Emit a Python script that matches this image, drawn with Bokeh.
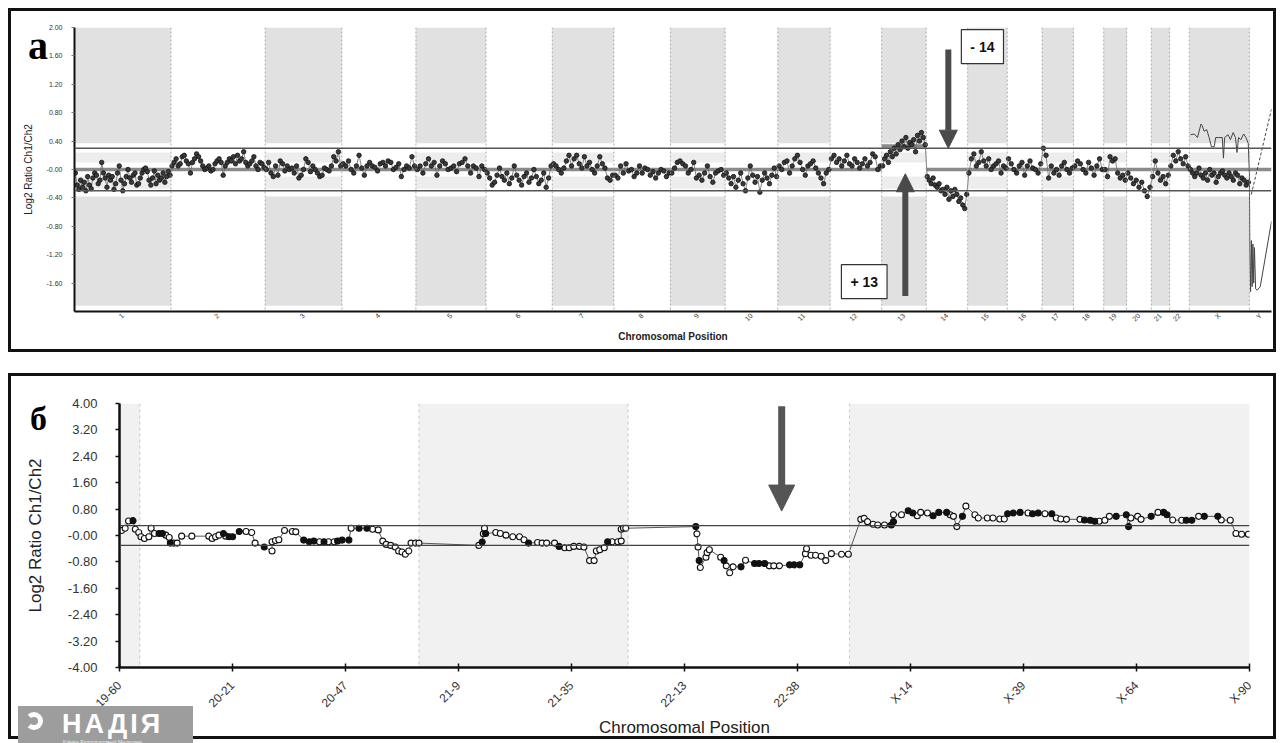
from bokeh.plotting import figure
from bokeh.models import (Span, Label, Arrow, NormalHead, FixedTicker,
                          CustomJSTickFormatter, Range1d, Div)
from bokeh.embed import file_html
from bokeh.resources import INLINE

FONT = "Liberation Sans"

# ------------------------------------------------------------------ panel a data
chrom_names = ["1", "2", "3", "4", "5", "6", "7", "8", "9", "10", "11", "12",
               "13", "14", "15", "16", "17", "18", "19", "20", "21", "22", "X", "Y"]
chrom_len_mb = [249, 243, 198, 191, 181, 171, 159, 146, 141, 136, 135, 133,
                115, 107, 102, 90, 81, 78, 59, 64, 47, 51, 155, 57]
chrom_shaded = [1, 0, 1, 0, 1, 0, 1, 0, 1, 0, 1, 0,
                1, 0, 1, 0, 1, 0, 1, 0, 1, 0, 1, 0]
segment_level = [0, 0, 0, 0, 0, 0, 0, 0, 0, 0, 0, 0,
                 0.33, 0, 0, 0, 0, 0, 0, 0, 0, 0, 0, 0]

chr1 = [-0.05, -0.22, -0.28, -0.15, -0.25, -0.18, -0.3, -0.1, -0.22, -0.27, -0.12, -0.05, -0.08, -0.2,
        -0.15, 0.1, -0.05, -0.12, -0.25, -0.08, -0.15, -0.1, -0.28, -0.2, -0.05, 0.05, -0.15, -0.3,
        -0.2, -0.1, 0.0, -0.12, -0.18, -0.08, -0.05, -0.22, -0.2, -0.12, -0.05, 0.0, 0.02, -0.03,
        -0.15, -0.22, -0.12, -0.02, -0.2, -0.08, -0.15, -0.12, -0.05, -0.18, -0.1, -0.03, -0.08]
chr2 = [0.05, 0.1, 0.15, 0.05, 0.08, 0.18, 0.2, 0.12, 0.08, -0.05, 0.1, 0.15, 0.22, 0.18, 0.12, 0.05,
        0.0, 0.02, 0.05, -0.02, 0.0, 0.08, 0.12, 0.15, 0.1, -0.08, 0.05, 0.1, 0.15, 0.12, 0.18, 0.08,
        0.2, 0.12, 0.15, 0.25, 0.1, 0.05, 0.08, 0.12, 0.18, 0.05, 0.0, 0.1, 0.08, 0.03]
chr3 = [0.0, 0.1, -0.05, -0.1, 0.05, -0.08, 0.12, 0.08, -0.02, 0.05, 0.0, 0.02, -0.05, 0.05, -0.12,
        -0.08, 0.0, 0.15, 0.1, -0.03, 0.05, 0.0, -0.05, -0.1, -0.08, 0.02, 0.0, -0.02, 0.05, 0.18,
        0.12, 0.25, 0.05]
chr4 = [0.08, 0.05, 0.12, 0.0, -0.05, 0.05, 0.2, 0.02, -0.08, 0.05, 0.1, 0.05, 0.03, -0.02, 0.08,
        0.1, 0.05, 0.12, 0.1, 0.0, 0.03, 0.08, -0.1, 0.0, 0.05, 0.02, 0.18, 0.05]
chr5 = [0.0, 0.05, -0.05, 0.08, 0.15, 0.05, 0.1, -0.08, 0.05, 0.12, 0.08, 0.0, 0.02, 0.05, -0.03,
        0.08, 0.1, 0.15, 0.05, -0.05, 0.05, 0.02, -0.1, 0.05, 0.0]
chr6 = [-0.05, -0.12, -0.22, -0.18, -0.08, 0.02, -0.1, -0.15, -0.05, -0.2, -0.12, 0.05, -0.08,
        -0.15, -0.22, -0.1, -0.05, -0.18, -0.12, 0.0, -0.1, -0.2, -0.15, -0.05, -0.25, -0.12, 0.05]
chr7 = [0.08, 0.05, 0.0, -0.05, 0.02, 0.12, 0.2, 0.05, 0.15, 0.2, 0.08, 0.02, 0.18, 0.05, 0.1, 0.0,
        -0.05, 0.05, 0.18, 0.08, 0.02, -0.12, -0.15, -0.08]
chr8 = [-0.08, -0.12, 0.05, -0.05, 0.08, -0.02, 0.0, -0.1, -0.05, 0.05, -0.05, 0.02, 0.0, -0.08,
        -0.03, -0.12, -0.05, 0.0, -0.02, -0.1, -0.05]
chr9 = [-0.05, 0.02, 0.1, 0.12, 0.08, 0.05, -0.05, 0.0, 0.1, -0.12, -0.08, -0.15, -0.05, 0.05, -0.1,
        -0.18, -0.05, -0.02, 0.0, -0.08]
chr10 = [-0.05, -0.12, -0.2, -0.1, -0.25, -0.15, -0.05, -0.2, -0.3, -0.12, 0.05, -0.08, -0.18, -0.1,
         -0.32, -0.15, -0.05, -0.12, -0.2, -0.08, 0.02, -0.1]
chr11 = [0.05, 0.0, 0.1, 0.12, -0.05, 0.05, 0.15, 0.2, 0.1, 0.0, -0.08, 0.05, 0.08, 0.12, 0.02,
         -0.05, -0.12, -0.2, -0.05, 0.0]
chr12 = [0.15, 0.2, 0.1, 0.15, 0.05, 0.12, 0.2, 0.08, 0.05, 0.15, 0.1, 0.02, 0.08, 0.15, 0.05, 0.1,
         0.22, 0.18, 0.0, 0.05]
chr13 = [0.05, 0.15, 0.2, 0.1, 0.25, 0.18, 0.3, 0.22, 0.35, 0.28, 0.4, 0.32, 0.45, 0.3, 0.38, 0.35,
         0.42, 0.25, 0.48, 0.4, 0.52, 0.45, 0.35]
chr14 = [-0.1, -0.15, -0.2, -0.12, -0.22, -0.25, -0.2, -0.3, -0.28, -0.35, -0.25, -0.42, -0.3, -0.38,
         -0.28, -0.35, -0.45, -0.4, -0.5, -0.55, -0.35]
chr15 = [-0.05, 0.15, 0.22, 0.05, 0.1, 0.25, 0.12, 0.05, 0.15, 0.0, 0.05, 0.08, 0.12, -0.05, 0.05, 0.02]
chr16 = [0.15, 0.08, 0.0, -0.05, 0.05, 0.1, -0.08, 0.05, 0.12, 0.02, 0.0, -0.05, 0.08]
chr17 = [0.3, 0.2, -0.12, 0.05, -0.05, 0.0, -0.08, 0.05, 0.1, 0.0, -0.05, 0.02]
chr18 = [0.05, 0.12, 0.08, 0.0, -0.05, 0.1, 0.02, -0.08, 0.05, 0.15, 0.0]
chr19 = [0.0, -0.1, 0.18, 0.12, 0.15, -0.05, -0.12, -0.08, -0.15]
chr20 = [-0.05, -0.12, -0.2, -0.15, -0.25, -0.18, -0.3, -0.38, -0.25]
chr21 = [-0.1, 0.12, -0.05, -0.15, -0.1, -0.2, -0.08]
chr22 = [0.05, 0.2, 0.12, 0.25, 0.15, 0.08, 0.18, 0.05]
chrX = [0.0, -0.05, -0.1, -0.05, 0.02, -0.08, -0.12, -0.05, -0.15, 0.0, -0.08, -0.05, -0.18, -0.1,
        -0.05, -0.02, -0.08, -0.12, -0.05, -0.1, -0.15, -0.05, -0.08, -0.2, -0.12, -0.15, -0.22, -0.18]
chrY = []
chrom_points = [chr1, chr2, chr3, chr4, chr5, chr6, chr7, chr8, chr9, chr10, chr11, chr12, chr13,
                chr14, chr15, chr16, chr17, chr18, chr19, chr20, chr21, chr22, chrX, chrY]

# second trace (thin line) on X and Y, positions in Mb inside the chromosome
trace_x_pos = [3, 13, 21, 30, 33, 38, 45, 51, 57, 64, 68, 76, 85, 88, 91, 100, 106, 113, 119,
               123, 127, 133, 140, 146, 152]
trace_x_val = [0.49, 0.50, 0.45, 0.64, 0.62, 0.54, 0.56, 0.45, 0.32, 0.32, 0.45, 0.45, 0.45, 0.16,
               0.45, 0.49, 0.42, 0.52, 0.45, 0.24, 0.45, 0.42, 0.50, 0.45, 0.37]
trace_y_pos = [0, 1, 3, 5, 7, 9, 11, 13, 16, 20, 28, 57]
trace_y_val = [-0.05, -1.1, -1.72, -1.0, -1.65, -1.05, -1.6, -1.1, -1.68, -1.7, -1.65, -0.73]
dash_y_pos = [5, 57]
dash_y_val = [-0.35, 0.85]

# ------------------------------------------------------------------ panel b data
b_tick_labels = ["19-60", "20-21", "20-47", "21-9", "21-35", "22-13", "22-38",
                 "X-14", "X-39", "X-64", "X-90"]
b_bounds = [0, 0.18, 2.65, 4.50, 6.46, 10]
b_shaded = [1, 0, 1, 0, 1]

b_x_19_20 = [0.02, 0.05, 0.08, 0.12, 0.14, 0.17, 0.19, 0.22, 0.26, 0.28, 0.31, 0.35, 0.38, 0.41,
             0.44, 0.45, 0.48, 0.51, 0.55, 0.64, 0.79, 0.82, 0.85, 0.88, 0.92, 0.94, 0.97, 1.00,
             1.06, 1.12, 1.17, 1.20, 1.28, 1.35, 1.35, 1.38, 1.41, 1.46, 1.53, 1.56, 1.63, 1.68,
             1.72, 1.77, 1.81, 1.85, 1.90, 1.93, 1.97, 2.03, 2.05, 2.12, 2.19, 2.24, 2.29, 2.33,
             2.36, 2.40, 2.44, 2.47, 2.50, 2.53, 2.56, 2.58, 2.62, 2.65]
b_y_19_20 = [0.15, 0.22, 0.44, 0.45, 0.19, 0.09, -0.04, -0.09, -0.04, 0.22, 0.06, 0.06, 0.06, 0.01,
             -0.06, -0.23, -0.23, -0.23, -0.02, -0.02, -0.02, -0.09, -0.04, 0.01, 0.06, -0.02, -0.04,
             -0.04, 0.12, 0.12, 0.09, -0.23, -0.35, -0.47, -0.19, -0.15, -0.13, 0.15, 0.12, 0.11,
             -0.14, -0.19, -0.17, -0.19, -0.19, -0.19, -0.19, -0.17, -0.14, -0.14, 0.22, 0.22, 0.22,
             0.19, 0.17, -0.17, -0.27, -0.30, -0.35, -0.47, -0.50, -0.57, -0.47, -0.23, -0.23, -0.23]
b_f_19_20 = [0, 0, 0, 1, 0, 0, 0, 0, 0, 0, 0, 1, 1, 0, 0, 1, 0, 0, 0, 0, 0, 0, 0, 0, 1, 0, 1, 1, 1, 0,
             0, 0, 1, 0, 0, 0, 0, 0, 0, 0, 1, 1, 1, 0, 1, 0, 0, 1, 1, 1, 0, 1, 1, 0, 0, 0, 0, 0, 0, 0,
             0, 0, 0, 0, 0, 0]
b_x_21 = [3.18, 3.21, 3.22, 3.23, 3.24, 3.33, 3.37, 3.42, 3.48, 3.54, 3.58, 3.62, 3.70, 3.74, 3.78,
          3.85, 3.89, 3.94, 3.98, 4.02, 4.07, 4.11, 4.16, 4.20, 4.22, 4.25, 4.29, 4.32, 4.36, 4.41,
          4.44, 4.44, 4.46, 4.48]
b_y_21 = [-0.30, -0.20, 0.05, 0.22, 0.06, 0.09, 0.06, 0.01, -0.04, -0.04, -0.13, -0.23, -0.21, -0.23,
          -0.23, -0.23, -0.33, -0.37, -0.37, -0.33, -0.33, -0.35, -0.76, -0.76, -0.47, -0.43, -0.37,
          -0.19, -0.19, -0.19, -0.17, 0.19, 0.22, 0.22]
b_f_21 = [0, 1, 0, 0, 1, 0, 0, 0, 0, 0, 0, 1, 0, 0, 0, 0, 1, 0, 0, 0, 0, 0, 0, 0, 0, 0, 0, 1, 0, 0,
          0, 0, 0, 0]
b_x_22 = [5.10, 5.11, 5.12, 5.13, 5.14, 5.19, 5.20, 5.22, 5.32, 5.35, 5.37, 5.40, 5.43, 5.50, 5.54,
          5.62, 5.66, 5.71, 5.75, 5.79, 5.84, 5.93, 5.97, 6.02, 6.07, 6.08, 6.12, 6.16, 6.21, 6.25,
          6.30, 6.39, 6.45]
b_y_22 = [0.27, 0.05, -0.35, -0.76, -0.97, -0.66, -0.52, -0.43, -0.66, -0.76, -0.92, -1.13, -0.95,
          -0.95, -0.75, -0.85, -0.85, -0.85, -0.92, -0.92, -0.92, -0.89, -0.89, -0.89, -0.55, -0.40,
          -0.60, -0.60, -0.63, -0.76, -0.55, -0.57, -0.57]
b_f_22 = [1, 0, 0, 1, 0, 0, 0, 0, 0, 1, 0, 0, 0, 1, 0, 1, 1, 1, 0, 0, 0, 1, 1, 1, 0, 0, 0, 0, 0, 0,
          0, 0, 0]
b_x_X = [6.56, 6.59, 6.62, 6.67, 6.71, 6.77, 6.83, 6.85, 6.85, 6.92, 6.98, 7.02, 7.06, 7.09, 7.15,
         7.20, 7.25, 7.32, 7.35, 7.38, 7.41, 7.46, 7.49, 7.57, 7.60, 7.68, 7.73, 7.79, 7.83, 7.86,
         7.91, 7.97, 8.04, 8.08, 8.13, 8.19, 8.25, 8.29, 8.33, 8.38, 8.50, 8.54, 8.59, 8.63, 8.67,
         8.72, 8.76, 8.82, 8.91, 8.93, 8.95, 9.01, 9.04, 9.13, 9.19, 9.24, 9.27, 9.32, 9.40, 9.44,
         9.49, 9.55, 9.60, 9.72, 9.75, 9.83, 9.88, 9.93, 9.99]
b_y_X = [0.49, 0.52, 0.42, 0.34, 0.32, 0.32, 0.32, 0.42, 0.63, 0.63, 0.75, 0.68, 0.60, 0.70, 0.68,
         0.60, 0.70, 0.70, 0.63, 0.58, 0.27, 0.58, 0.89, 0.63, 0.53, 0.53, 0.53, 0.50, 0.50, 0.66,
         0.68, 0.70, 0.68, 0.66, 0.68, 0.66, 0.66, 0.53, 0.50, 0.49, 0.49, 0.47, 0.46, 0.43, 0.43,
         0.46, 0.58, 0.58, 0.63, 0.27, 0.53, 0.58, 0.49, 0.58, 0.70, 0.70, 0.63, 0.47, 0.46, 0.46,
         0.46, 0.58, 0.58, 0.58, 0.47, 0.46, 0.06, 0.04, 0.04]
b_f_X = [0, 0, 0, 0, 0, 0, 1, 1, 0, 0, 1, 1, 0, 0, 0, 1, 1, 1, 0, 0, 0, 1, 0, 0, 0, 0, 0, 0, 0, 1,
         1, 1, 0, 1, 1, 0, 1, 0, 0, 0, 0, 1, 1, 1, 0, 0, 0, 1, 1, 1, 0, 0, 0, 1, 0, 1, 1, 0, 0, 1,
         1, 0, 1, 1, 0, 0, 0, 0, 0]

# ================================================================== panel a
starts = []
acc = 0
for L in chrom_len_mb:
    starts.append(acc)
    acc += L
total_mb = acc
centers = [s + L / 2 for s, L in zip(starts, chrom_len_mb)]

p1 = figure(width=1268, height=344, x_range=Range1d(0, total_mb), y_range=Range1d(-2, 2),
            output_backend="svg", toolbar_location=None,
            min_border_left=63, min_border_right=8, min_border_top=16, min_border_bottom=44)
p1.styles = {"border": "3px solid #111"}
p1.margin = (8, 8, 0, 8)
p1.outline_line_color = None
p1.xgrid.visible = False
p1.ygrid.visible = False

sh_l = [s for s, L, f in zip(starts, chrom_len_mb, chrom_shaded) if f]
sh_r = [s + L for s, L, f in zip(starts, chrom_len_mb, chrom_shaded) if f]
p1.quad(left=sh_l, right=sh_r, top=2.0, bottom=0.37, fill_color="#e1e1e1", line_color=None)
p1.quad(left=sh_l, right=sh_r, top=-0.38, bottom=-1.92, fill_color="#e1e1e1", line_color=None)
p1.quad(left=sh_l, right=sh_r, top=0.24, bottom=0.1, fill_color="#ededed", line_color=None)
p1.quad(left=sh_l, right=sh_r, top=-0.1, bottom=-0.27, fill_color="#ededed", line_color=None)

for s in starts[1:]:
    p1.add_layout(Span(location=s, dimension="height", line_color="#9a9a9a",
                       line_dash="2 2", line_width=0.8))

for loc in (0.3, -0.3):
    p1.add_layout(Span(location=loc, dimension="width", line_color="#555555", line_width=1.5))

p1.segment(x0=starts, x1=[s + L for s, L in zip(starts, chrom_len_mb)],
           y0=segment_level, y1=segment_level, line_color="#8a8a8a", line_width=3.5)

px, py = [], []
for s, L, vals in zip(starts, chrom_len_mb, chrom_points):
    n = len(vals)
    for k, v in enumerate(vals):
        px.append(s + (k + 0.5) * L / n)
        py.append(v)
p1.line(px, py, line_color="#6a6a6a", line_width=0.8)
p1.scatter(px, py, size=4.5, fill_color="#3a3a3a", line_color="#111111", line_width=0.8)

ix = chrom_names.index("X")
iy = chrom_names.index("Y")
tx = [starts[ix] + p for p in trace_x_pos] + [starts[iy] + p for p in trace_y_pos]
tv = trace_x_val + trace_y_val
p1.line(tx, tv, line_color="#444444", line_width=1)
p1.line([starts[iy] + p for p in dash_y_pos], dash_y_val, line_color="#444444",
        line_width=1, line_dash="3 2")

p1.yaxis.ticker = FixedTicker(ticks=[-1.6, -1.2, -0.8, -0.4, 0, 0.4, 0.8, 1.2, 1.6, 2.0])
p1.yaxis.formatter = CustomJSTickFormatter(
    code="return Math.abs(tick) < 1e-9 ? '-0.00' : tick.toFixed(2);")
p1.yaxis.axis_label = "Log2 Ratio Ch1/Ch2"
p1.xaxis.ticker = FixedTicker(ticks=centers)
p1.xaxis.formatter = CustomJSTickFormatter(
    args=dict(c=centers, n=chrom_names),
    code="for (let i = 0; i < c.length; i++) { if (Math.abs(c[i] - tick) < 1e-6) return n[i]; } return '';")
p1.xaxis.axis_label = "Chromosomal Position"
p1.xaxis.major_label_orientation = 0.785
for ax in (p1.xaxis[0], p1.yaxis[0]):
    ax.axis_line_width = 2
    ax.axis_line_color = "#111111"
    ax.minor_tick_line_color = None
    ax.major_label_text_font = FONT
    ax.major_label_text_font_size = "7px"
    ax.major_label_text_color = "#333333"
    ax.axis_label_text_font = FONT
    ax.axis_label_text_font_size = "10px"
    ax.axis_label_text_color = "#222222"
p1.yaxis.major_tick_out = 3
p1.yaxis.major_tick_in = 0
p1.yaxis.major_tick_line_color = "#777777"
p1.yaxis.major_label_standoff = 9
p1.yaxis.axis_label_standoff = 10
p1.yaxis.axis_label_text_font_style = "normal"
p1.xaxis.major_tick_out = 0
p1.xaxis.major_tick_in = 0
p1.xaxis.major_tick_line_color = None
p1.xaxis.major_label_standoff = 3
p1.xaxis.axis_label_standoff = 3
p1.xaxis.axis_label_text_font_style = "bold"

ANN_X_M14, ANN_Y_M14 = 2343, 1.73
ANN_X_P13, ANN_Y_P13 = 2038, -1.58
ARR_M14 = (2255, 1.69, 2255, 0.30)
ARR_P13 = (2144, -1.78, 2144, -0.06)
for (xs, ys, xe, ye) in (ARR_M14, ARR_P13):
    p1.add_layout(Arrow(x_start=xs, y_start=ys, x_end=xe, y_end=ye, line_color="#4a4a4a",
                        line_width=6,
                        end=NormalHead(size=18, fill_color="#4a4a4a", line_color="#4a4a4a")))
for (lx, ly, t) in ((ANN_X_M14, ANN_Y_M14, "- 14"), (ANN_X_P13, ANN_Y_P13, "+ 13")):
    p1.add_layout(Label(x=lx, y=ly, text=t, text_align="center", text_baseline="middle",
                        text_font=FONT, text_font_style="bold", text_font_size="14px",
                        text_color="#111111", background_fill_color="white",
                        border_line_color="#333333", border_line_width=1.2, padding=9))

# ================================================================== panel b
p2 = figure(width=1268, height=366, x_range=Range1d(0, 10), y_range=Range1d(-4, 4),
            output_backend="svg", toolbar_location=None,
            min_border_left=108, min_border_right=30, min_border_top=27, min_border_bottom=75)
p2.styles = {"border": "3px solid #111"}
p2.margin = (21, 8, 0, 8)
p2.outline_line_color = None
p2.xgrid.visible = False
p2.ygrid.visible = False

bl = [b_bounds[i] for i in range(len(b_shaded)) if b_shaded[i]]
br = [b_bounds[i + 1] for i in range(len(b_shaded)) if b_shaded[i]]
p2.quad(left=bl, right=br, top=4, bottom=-4, fill_color="#f1f1f1", line_color=None)
for b in b_bounds[1:-1]:
    p2.add_layout(Span(location=b, dimension="height", line_color="#c8c8c8",
                       line_dash="3 3", line_width=1))
for loc in (0.3, -0.3):
    p2.add_layout(Span(location=loc, dimension="width", line_color="#444444", line_width=1.3))

bx = b_x_19_20 + b_x_21 + b_x_22 + b_x_X
by = b_y_19_20 + b_y_21 + b_y_22 + b_y_X
bf = b_f_19_20 + b_f_21 + b_f_22 + b_f_X
p2.line(bx, by, line_color="#555555", line_width=1)
p2.scatter([x for x, f in zip(bx, bf) if not f], [y for y, f in zip(by, bf) if not f],
           size=6, fill_color="white", line_color="#111111", line_width=1.1)
p2.scatter([x for x, f in zip(bx, bf) if f], [y for y, f in zip(by, bf) if f],
           size=6, fill_color="#111111", line_color="#111111", line_width=1.1)

p2.add_layout(Arrow(x_start=5.86, y_start=3.92, x_end=5.86, y_end=0.74, line_color="#555555",
                    line_width=7,
                    end=NormalHead(size=26, fill_color="#555555", line_color="#555555")))

p2.yaxis.ticker = FixedTicker(ticks=[-4, -3.2, -2.4, -1.6, -0.8, 0, 0.8, 1.6, 2.4, 3.2, 4])
p2.yaxis.formatter = CustomJSTickFormatter(
    code="return Math.abs(tick) < 1e-9 ? '-0.00' : tick.toFixed(2);")
p2.yaxis.axis_label = "Log2 Ratio Ch1/Ch2"
p2.xaxis.ticker = FixedTicker(ticks=list(range(len(b_tick_labels))))
p2.xaxis.formatter = CustomJSTickFormatter(args=dict(n=b_tick_labels),
                                           code="return n[Math.round(tick)];")
p2.xaxis.axis_label = "Chromosomal Position"
p2.xaxis.major_label_orientation = 0.785
for ax in (p2.xaxis[0], p2.yaxis[0]):
    ax.axis_line_width = 2.5
    ax.axis_line_color = "#111111"
    ax.minor_tick_line_color = None
    ax.major_tick_line_color = "#111111"
    ax.major_tick_line_width = 1.5
    ax.major_label_text_font = FONT
    ax.major_label_text_color = "#333333"
    ax.axis_label_text_font = FONT
    ax.axis_label_text_color = "#222222"
    ax.axis_label_text_font_style = "normal"
p2.yaxis.major_label_text_font_size = "13px"
p2.xaxis.major_label_text_font_size = "12px"
p2.yaxis.major_tick_out = 4
p2.yaxis.major_tick_in = 0
p2.yaxis.major_label_standoff = 18
p2.yaxis.axis_label_text_font_size = "17px"
p2.yaxis.axis_label_standoff = 20
p2.xaxis.major_tick_out = 4
p2.xaxis.major_tick_in = 4
p2.xaxis.major_label_standoff = 12
p2.xaxis.axis_label_text_font_size = "17px"
p2.xaxis.axis_label_standoff = 0

# ------------------------------------------------------------------ panel letters and logo
letter_a = Div(text="а", width=30, height=44,
               styles={"position": "absolute", "left": "23px", "top": "21px",
                       "font-family": "Liberation Serif", "font-weight": "bold",
                       "font-size": "40px", "line-height": "40px", "color": "#000"})
letter_b = Div(text="б", width=30, height=40,
               styles={"position": "absolute", "left": "25px", "top": "397px",
                       "font-family": "Liberation Serif", "font-weight": "bold",
                       "font-size": "34px", "line-height": "34px", "color": "#000"})
logo_html = (
    '<div style="position:relative;width:175px;height:42px;background:#9d9d9d;overflow:hidden;">'
    '<div style="position:absolute;left:7px;top:6px;width:18px;height:18px;border:5px solid #fff;'
    'border-radius:50%;border-left-color:transparent;"></div>'
    '<div style="position:absolute;left:44px;top:3px;font-family:Liberation Sans;font-weight:bold;'
    'font-size:27px;line-height:30px;letter-spacing:3px;color:#fff;">НАДІЯ</div>'
    '<div style="position:absolute;left:45px;top:33px;font-family:Liberation Sans;'
    'font-size:5px;line-height:6px;color:#eee;">Клініка Репродуктивної Медицини</div>'
    '</div>')
logo = Div(text=logo_html, width=175, height=42,
           styles={"position": "absolute", "left": "13px", "top": "701px"})

html = file_html([p1, p2, letter_a, letter_b, logo], INLINE)
open("out.html", "w").write(html)
